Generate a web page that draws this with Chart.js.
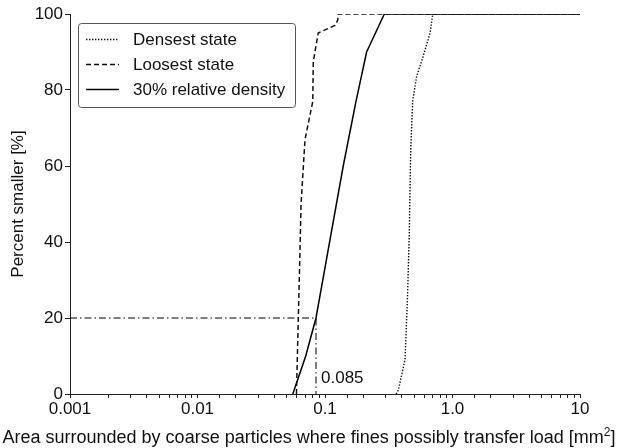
<!DOCTYPE html>
<html>
<head>
<meta charset="utf-8">
<script src="https://cdn.jsdelivr.net/npm/chart.js@4/dist/chart.umd.min.js"></script>
<style>
  html, body { margin: 0; padding: 0; background: #fff; }
  #wrap { width: 618px; height: 448px; position: relative; }
</style>
</head>
<body>
<div id="wrap"><canvas id="chart"></canvas></div>
<script>
// values
const densestX = [0.361, 0.376, 0.424, 0.443, 0.458, 0.470, 0.487, 0.523, 0.590, 0.667, 0.700, 10];
const densestY = [0, 1, 9, 25, 42, 64, 77, 83.5, 89, 95, 100, 100];

const loosestX = [0.0597, 0.0637, 0.0649, 0.0697, 0.0802, 0.0809, 0.0885, 0.1197, 0.126, 0.127, 10];
const loosestY = [0, 38, 50, 67, 77, 87.5, 95, 97, 98.4, 100, 100];

const relDensityX = [0.0559, 0.0706, 0.085, 0.106, 0.139, 0.175, 0.212, 0.292, 10];
const relDensityY = [0, 10, 20, 38, 60, 77, 90, 100, 100];

// dash-dot guide to the 20 % point
const guideX = [0.001, 0.085, 0.085];
const guideY = [20, 20, 0];
const guideLabel = '0.085';

const xTickValues = [0.001, 0.01, 0.1, 1, 10];
const xTickLabels = ['0.001', '0.01', '0.1', '1.0', '10'];
const yTicks = [0, 20, 40, 60, 80, 100];

const xTitle = 'Area surrounded by coarse particles where fines possibly transfer load [mm';
const xTitleSup = '2';
const xTitleEnd = ']';

const toPoints = (xs, ys) => xs.map((x, i) => ({ x, y: ys[i] }));

const FONT = 'Liberation Sans, Arial, sans-serif';
const INK = '#111';

Chart.defaults.font.family = FONT;
Chart.defaults.color = INK;

const boxLegend = {
  id: 'boxLegend',
  afterDraw(chart) {
    const ctx = chart.ctx;
    const items = chart.data.datasets.filter(d => d.inLegend);
    ctx.save();
    ctx.strokeStyle = '#555';
    ctx.lineWidth = 1;
    ctx.setLineDash([]);
    ctx.beginPath();
    ctx.roundRect(78.5, 23.5, 217, 84, 3);
    ctx.stroke();
    ctx.font = '17px ' + FONT;
    ctx.fillStyle = INK;
    ctx.textBaseline = 'middle';
    items.forEach((d, i) => {
      const y = 39 + i * 25;
      ctx.strokeStyle = d.borderColor;
      ctx.lineWidth = d.borderWidth;
      ctx.setLineDash(d.borderDash || []);
      ctx.beginPath();
      ctx.moveTo(86, y + 0.5);
      ctx.lineTo(119, y + 0.5);
      ctx.stroke();
      ctx.fillText(d.label, 133, y + 1);
    });
    ctx.restore();
  }
};

// guide label and the x title (with a real superscript)
const extraText = {
  id: 'extraText',
  afterDraw(chart) {
    const ctx = chart.ctx;
    const xs = chart.scales.x;
    const ys = chart.scales.y;
    ctx.save();
    ctx.fillStyle = INK;
    ctx.textBaseline = 'middle';
    ctx.font = '17px ' + FONT;
    ctx.fillText(guideLabel, xs.getPixelForValue(guideX[1]) + 5, ys.getPixelForValue(0) - 16);

    ctx.textBaseline = 'alphabetic';
    const big = '18px ' + FONT;
    const small = '12px ' + FONT;
    ctx.font = big;
    const w1 = ctx.measureText(xTitle).width;
    const w3 = ctx.measureText(xTitleEnd).width;
    ctx.font = small;
    const w2 = ctx.measureText(xTitleSup).width;
    const total = w1 + w2 + w3;
    let x = chart.width / 2 - total / 2;
    const base = 443;
    ctx.font = big;
    ctx.fillText(xTitle, x, base);
    x += w1;
    ctx.font = small;
    ctx.fillText(xTitleSup, x, base - 7);
    x += w2;
    ctx.font = big;
    ctx.fillText(xTitleEnd, x, base);
    ctx.restore();
  }
};

new Chart(document.getElementById('chart'), {
  type: 'scatter',
  data: {
    datasets: [
      {
        label: 'Densest state',
        data: toPoints(densestX, densestY),
        showLine: true,
        inLegend: true,
        borderColor: '#111',
        borderWidth: 1.4,
        borderDash: [1.4, 1.6],
        pointRadius: 0,
        tension: 0
      },
      {
        label: 'Loosest state',
        data: toPoints(loosestX, loosestY),
        showLine: true,
        inLegend: true,
        borderColor: '#111',
        borderWidth: 1.5,
        borderDash: [5, 3],
        pointRadius: 0,
        tension: 0
      },
      {
        label: '30% relative density',
        data: toPoints(relDensityX, relDensityY),
        showLine: true,
        inLegend: true,
        borderColor: '#000',
        borderWidth: 1.5,
        pointRadius: 0,
        tension: 0
      },
      {
        label: 'guide',
        data: toPoints(guideX, guideY),
        showLine: true,
        inLegend: false,
        borderColor: '#000',
        borderWidth: 1,
        borderDash: [7, 3, 1.5, 3],
        pointRadius: 0,
        tension: 0
      }
    ]
  },
  options: {
    responsive: true,
    maintainAspectRatio: false,
    animation: false,
    layout: { padding: { left: 0, right: 38, top: 14, bottom: 0 } },
    plugins: {
      legend: { display: false },
      tooltip: { enabled: false }
    },
    scales: {
      x: {
        type: 'logarithmic',
        min: 0.001,
        max: 10,
        border: { display: true, color: '#222', width: 1 },
        grid: { drawOnChartArea: false, drawTicks: true, tickLength: 4, color: '#222' },
        ticks: {
          autoSkip: false,
          maxRotation: 0,
          padding: 1,
          font: { size: 17 },
          color: INK,
          callback(value) {
            const i = xTickValues.findIndex(v => Math.abs(v - value) / v < 1e-6);
            return i >= 0 ? xTickLabels[i] : '';
          }
        },
        title: { display: false },
        afterFit(scale) { scale.height = 54; }
      },
      y: {
        min: 0,
        max: 100,
        afterBuildTicks(scale) { scale.ticks = yTicks.map(v => ({ value: v })); },
        border: { display: true, color: '#222', width: 1 },
        grid: { drawOnChartArea: false, drawTicks: true, tickLength: 5, color: '#222' },
        ticks: { padding: 2, font: { size: 17 }, color: INK },
        title: {
          display: true,
          text: 'Percent smaller [%]',
          font: { size: 17 },
          color: INK,
          padding: { top: 8, bottom: 4 }
        },
        afterFit(scale) { scale.width = 70; }
      }
    }
  },
  plugins: [boxLegend, extraText]
});
</script>
</body>
</html>
